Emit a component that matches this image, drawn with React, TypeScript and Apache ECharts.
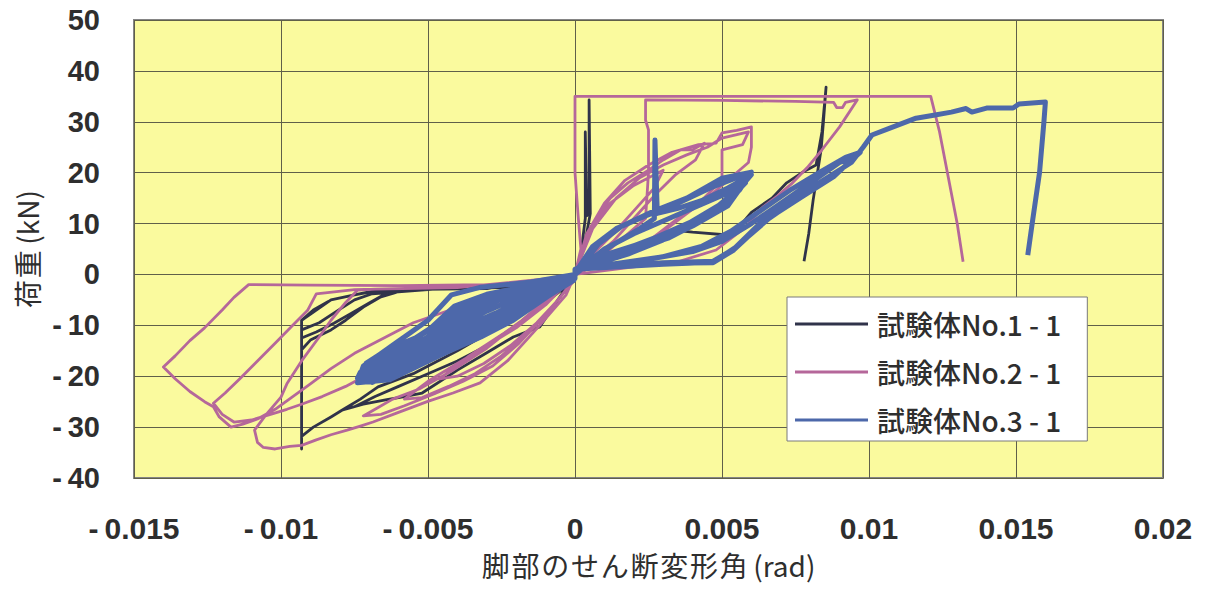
import React, { useEffect, useRef } from "react";
import * as echarts from "echarts";

// ---------- axis definitions ----------
const xTicks = { min: -0.015, max: 0.02, interval: 0.005 };
const yTicks = { min: -40, max: 50, interval: 10 };
const xTitle = "脚部のせん断変形角(rad)";
const yTitle = "荷重(kN)";
const seriesNames = ["試験体No.1-1", "試験体No.2-1", "試験体No.3-1"];
const seriesColors = ["#30334a", "#b5679a", "#4d68aa"];

// ---------- 試験体No.1-1 (navy) ----------
const no1Spike = [[0, 0], [0.0002, 4], [0.00035, 11], [0.00035, 28], [0.0004, 11.5], [0.00048, 12], [0.00048, 34.3], [0.00052, 12], [0.0003, 5], [0, 0.5]];
const no1NegSmall = [[0, 0], [-0.002, -2.5], [-0.004, -2.8], [-0.006, -3], [-0.0068, -3.3], [-0.0075, -4], [-0.0083, -5], [-0.0089, -7], [-0.0093, -9],
  [-0.0093, -14.8], [-0.009, -12.9], [-0.0083, -10.9], [-0.0078, -9], [-0.0072, -6.4], [-0.0066, -4.4], [-0.006, -3.4],
  [-0.0065, -4], [-0.007, -5.6], [-0.0076, -7.6], [-0.0082, -9.6], [-0.0088, -11.3], [-0.0093, -12.5],
  [-0.0093, -10.9], [-0.0087, -9.5], [-0.0081, -7.2], [-0.0075, -5], [-0.0069, -3.8], [-0.005, -3], [-0.002, -2], [0, 0]];
const no1NegMid = [[0, 0], [-0.0012, -5], [-0.0025, -10], [-0.004, -15], [-0.0055, -19.5], [-0.0067, -22.1], [-0.0073, -24.5], [-0.0079, -26.6],
  [-0.0075, -26], [-0.0068, -24], [-0.006, -22], [-0.005, -19.5], [-0.004, -17], [-0.003, -14], [-0.002, -10], [-0.001, -5.5], [0, -1]];
const no1NegBig = [[0, 0], [-0.0012, -10.3], [-0.0021, -12.3], [-0.003, -15.4], [-0.004, -18.8], [-0.0052, -23.3], [-0.0059, -24.1], [-0.0064, -24.6],
  [-0.0072, -25.5], [-0.0079, -26.6], [-0.0083, -28], [-0.0089, -30], [-0.0093, -31.8], [-0.0093, -34.3], [-0.0093, -9],
  [-0.0088, -7], [-0.0083, -5], [-0.0075, -4], [-0.0068, -3.2], [-0.006, -3], [-0.003, -2.8], [0, 0]];
const no1Pos = [[0, 0], [0.001, 3], [0.002, 5.5], [0.0035, 8.6], [0.004, 8.3], [0.0053, 7.7], [0.0056, 9.5], [0.006, 12.2], [0.0067, 15],
  [0.0072, 18], [0.0078, 20.3], [0.0082, 21.5], [0.0084, 28], [0.00854, 36.8], [0.00845, 30], [0.00837, 24.5], [0.0081, 14.6], [0.00795, 8], [0.00779, 2.6]];

// ---------- 試験体No.2-1 (pink) ----------
const no2PosSmall = [[0, 0], [0.0005, 9], [0.0012, 14], [0.002, 17.5], [0.003, 20.5], [0.0027, 17], [0.002, 12.5], [0.0013, 8], [0.0006, 4], [0, 0]];
const no2PosLoop1 = [[0, 0], [0.0003, 6], [0.0007, 11], [0.0012, 15], [0.0018, 18], [0.0025, 20.5], [0.003, 22.5], [0.0036, 24.5], [0.004, 24.5],
  [0.0044, 25.8], [0.0041, 22.5], [0.0034, 19.5], [0.0027, 15.5], [0.002, 11], [0.0013, 6.5], [0.0006, 3], [0, 0.5]];
const no2PosLoop2 = [[0, 0], [0.0004, 8], [0.001, 14], [0.0017, 18.5], [0.0025, 21.5], [0.0033, 24], [0.0042, 25.5], [0.0048, 25.8], [0.005, 27.8],
  [0.0055, 28.3], [0.006, 29], [0.006, 25], [0.0059, 22], [0.0052, 18.5], [0.0045, 15], [0.0037, 11.5], [0.0029, 8], [0.002, 5], [0.001, 2.5], [0, 0.5]];
const no2PosLoop3 = [[0, 0.3], [0.0006, 9], [0.0014, 15], [0.0022, 19], [0.003, 21.5], [0.0038, 23.5], [0.0045, 25], [0.005, 26.8], [0.0059, 28],
  [0.0057, 25.5], [0.005, 24.5], [0.005, 18.6], [0.0043, 14.5], [0.0035, 11], [0.0026, 7], [0.0016, 3.8], [0.0008, 2], [0, 0]];
const no2PosCap = [[0, 0], [0.0002, 5], [0.0001, 12], [0, 20], [0, 35], [0.003, 35], [0.006, 35], [0.009, 35], [0.0121, 35],
  [0.0124, 28], [0.0127, 19], [0.013, 10], [0.0132, 2.5]];
const no2PosCap2 = [[0, 0], [0.0012, 5], [0.0024, 11], [0.0025, 20], [0.0025, 28.4], [0.0024, 30.3], [0.0024, 34.3], [0.005, 34.2], [0.0075, 34],
  [0.0088, 33.8], [0.0089, 32.8], [0.0091, 32.8], [0.0092, 33.8], [0.0096, 34.3], [0.009, 29], [0.0084, 24.5], [0.0079, 21], [0.0074, 18],
  [0.0069, 15.5], [0.0064, 13.3], [0.0058, 9.3], [0.0048, 4.8], [0.0035, 2.5], [0.002, 1.5], [0, 0]];
const no2NegInner1 = [[0, 0], [-0.0012, -6.5], [-0.0024, -11.5], [-0.0036, -16], [-0.0046, -20.5], [-0.004, -20], [-0.0031, -17.5], [-0.0022, -14],
  [-0.0013, -9.5], [-0.0005, -4.5], [0, -0.5]];
const no2NegInner2 = [[0, 0], [-0.001, -6], [-0.002, -10.5], [-0.003, -14], [-0.004, -17.5], [-0.005, -21], [-0.0058, -24.5], [-0.0052, -24.2],
  [-0.0043, -22], [-0.0034, -19.5], [-0.0025, -16], [-0.0016, -11.5], [-0.0008, -6.5], [0, -1]];
const no2NegInner3 = [[0, 0], [-0.0008, -4], [-0.0018, -9], [-0.003, -14.5], [-0.0042, -19], [-0.0053, -22.5], [-0.0062, -24.5], [-0.0068, -26.5],
  [-0.0072, -27.8], [-0.0066, -27.5], [-0.0058, -25.8], [-0.0048, -23.5], [-0.0038, -21], [-0.0028, -18], [-0.0019, -13.5], [-0.001, -8], [-0.0003, -3], [0, 0]];
const no2NegLoopC = [[0, -0.3], [-0.004, -2.6], [-0.0068, -2.9], [-0.0074, -3.1], [-0.0078, -5.5], [-0.0083, -9], [-0.0087, -12.3], [-0.0093, -17],
  [-0.0098, -21.5], [-0.01, -24.1], [-0.0105, -27.5], [-0.0109, -30.6], [-0.0108, -33], [-0.0106, -34], [-0.0102, -34.3], [-0.0097, -33.8],
  [-0.0093, -33.6], [-0.0088, -32.5], [-0.0083, -31.5], [-0.00775, -30.6], [-0.0073, -29.8], [-0.00687, -29], [-0.00605, -27.2],
  [-0.00503, -25], [-0.00415, -23.3], [-0.00323, -21.3], [-0.0023, -17], [-0.0012, -10], [-0.0003, -4], [0, 0]];
const no2NegLoopB = [[0, -0.5], [-0.004, -2.5], [-0.0075, -3], [-0.0088, -3.8], [-0.0091, -7.1], [-0.0096, -10], [-0.0102, -13.5], [-0.0108, -17],
  [-0.0114, -20.5], [-0.0119, -23.3], [-0.0123, -25.3], [-0.012, -27.5], [-0.0116, -29], [-0.011, -28.6], [-0.0103, -27.4], [-0.0098, -26.5],
  [-0.0093, -25.5], [-0.0086, -24], [-0.0078, -22], [-0.007, -19.5], [-0.006, -16], [-0.005, -12.5], [-0.0035, -8], [-0.002, -4.5], [0, 0]];
const no2NegLoopA = [[0, -0.8], [-0.003, -2], [-0.006, -2.2], [-0.009, -2.1], [-0.0111, -2], [-0.0116, -4.5], [-0.012, -7], [-0.0126, -10.5],
  [-0.0131, -13], [-0.0136, -16], [-0.014, -18.2], [-0.0136, -20.5], [-0.0131, -23], [-0.0126, -25], [-0.0123, -26], [-0.0121, -28],
  [-0.0117, -30], [-0.0113, -29.4], [-0.0108, -28.4], [-0.0102, -26.5], [-0.0096, -24], [-0.009, -21.5], [-0.0083, -18.5],
  [-0.0075, -15.5], [-0.0065, -12.5], [-0.0055, -9.5], [-0.004, -6.5], [-0.0025, -4], [-0.001, -1.8], [0, 0]];

// ---------- 試験体No.3-1 (blue) ----------
const no3NegLoop1 = [[0, -1], [-0.00095, -4.4], [-0.0021, -9], [-0.0032, -12.3], [-0.0044, -15.4], [-0.0063, -20.7], [-0.0074, -21.3],
  [-0.0072, -18], [-0.0061, -13.5], [-0.005, -9], [-0.0042, -4], [-0.0032, -2.5], [-0.0015, -1.5], [0, 0]];
const no3NegLoop2 = [[0, -0.5], [-0.0011, -4.3], [-0.0023, -8.6], [-0.0034, -11.8], [-0.0046, -14.6], [-0.0061, -19], [-0.0073, -20.6],
  [-0.0071, -18.6], [-0.006, -14.6], [-0.0049, -10.5], [-0.0041, -6.2], [-0.003, -3.9], [-0.0014, -2], [0, 0]];
const no3NegLoop3 = [[0, -0.3], [-0.0012, -4], [-0.0025, -8.2], [-0.0036, -11.2], [-0.0047, -13.8], [-0.0059, -17.6], [-0.0072, -20],
  [-0.0069, -19], [-0.0058, -15.6], [-0.0048, -12], [-0.0038, -8.5], [-0.0027, -5.3], [-0.0013, -2.6], [0, 0]];
const no3NegLoop4 = [[0, -0.2], [-0.0013, -3.6], [-0.0027, -7.6], [-0.0038, -10.4], [-0.0049, -13.2], [-0.006, -16.6], [-0.0071, -19.5],
  [-0.0066, -17.6], [-0.0055, -14.4], [-0.0046, -11.2], [-0.0036, -7.8], [-0.0025, -4.8], [-0.0012, -2.2], [0, 0]];
const no3NegLoop5 = [[0, -0.6], [-0.001, -4.6], [-0.0022, -8.8], [-0.0033, -12], [-0.0045, -15], [-0.0062, -20], [-0.0073, -21],
  [-0.0072, -18.3], [-0.0063, -15.4], [-0.0052, -11.8], [-0.0043, -8], [-0.0034, -5], [-0.0022, -3], [0, 0]];
const no3NegLoop6 = [[0, -0.8], [-0.0009, -3.6], [-0.002, -7.6], [-0.003, -10.8], [-0.0042, -14], [-0.0055, -17.6], [-0.0068, -20.8],
  [-0.0074, -20.4], [-0.0073, -19.2], [-0.0066, -16.6], [-0.0056, -13.4], [-0.0047, -9.8], [-0.0039, -6.6], [-0.0029, -4.2], [-0.0016, -2.4], [0, -0.2]];
const no3NegLoop7 = [[0, -0.4], [-0.0014, -4.8], [-0.0026, -9.4], [-0.0037, -12.8], [-0.0048, -15.8], [-0.0058, -18.6], [-0.0069, -21.2],
  [-0.0071, -17.4], [-0.0064, -14.8], [-0.0054, -12.4], [-0.0045, -9.4], [-0.0035, -6.4], [-0.0024, -3.6], [-0.0011, -1.6], [0, 0]];
const no3NegLoop8 = [[0, -0.7], [-0.001, -4], [-0.0022, -8.2], [-0.0034, -11.5], [-0.0046, -14.4], [-0.006, -18.4], [-0.0072, -20.9],
  [-0.007, -18.9], [-0.0061, -15.9], [-0.0051, -12.6], [-0.0042, -9.2], [-0.0032, -6], [-0.0019, -3.4], [0, -0.4]];
const no3NegLoop9 = [[0, -0.2], [-0.0015, -4.2], [-0.0028, -8.4], [-0.004, -11.6], [-0.0052, -14.6], [-0.0063, -17.6], [-0.0072, -19.6],
  [-0.0068, -18.2], [-0.0059, -16.2], [-0.005, -13.4], [-0.004, -10.2], [-0.003, -7.2], [-0.0018, -4.2], [-0.0008, -2], [0, 0]];
const no3PosLoop1 = [[0, 0], [0.0008, 6], [0.0016, 9.5], [0.0027, 12.5], [0.0038, 15], [0.005, 18.9], [0.006, 20.1], [0.0056, 16.6],
  [0.0046, 12], [0.0035, 8.7], [0.0023, 6.2], [0.0012, 4.2], [0, 1]];
const no3PosLoop2 = [[0, 0.5], [0.001, 5], [0.002, 8], [0.003, 10.5], [0.004, 13], [0.005, 15.5], [0.0058, 18], [0.0053, 15], [0.0043, 10.5],
  [0.0032, 7.2], [0.002, 5], [0.001, 3], [0, 0.5]];
const no3PosLoop5 = [[0, 0.3], [0.0006, 5.5], [0.0014, 9], [0.0024, 11.5], [0.0035, 14], [0.0046, 17], [0.0055, 19], [0.006, 19.6],
  [0.0057, 17.6], [0.0049, 13.6], [0.0039, 10.2], [0.0028, 7.4], [0.0017, 5], [0.0008, 3.2], [0, 0.8]];
const no3PosSpike = [[0, 0], [0.0012, 5.5], [0.0022, 9], [0.0027, 11], [0.00272, 26.4], [0.0028, 12], [0.0035, 13], [0.0043, 14.5],
  [0.0052, 17], [0.0059, 19.2], [0.0052, 13.5], [0.004, 9.5], [0.003, 6.8], [0.0018, 4], [0, 0.8]];
const no3PosLoop3 = [[0, 1], [0.0015, 1.8], [0.003, 2.2], [0.0047, 2.3], [0.0054, 4.8], [0.0065, 10.7], [0.0077, 15.2], [0.0088, 19.2],
  [0.0095, 23], [0.009, 22], [0.008, 18], [0.007, 14], [0.006, 10], [0.005, 6.5], [0.004, 4.5], [0.0025, 3], [0, 1]];
const no3PosLoop4 = [[0, 1], [0.003, 2], [0.0047, 2.4], [0.0055, 5.5], [0.0066, 11], [0.0078, 15.8], [0.0089, 19.8], [0.0097, 24],
  [0.0092, 23], [0.0083, 20], [0.0073, 16.5], [0.0063, 12.5], [0.0053, 8.5], [0.0043, 5.5], [0.003, 3.5], [0, 1]];
const no3PosFinal = [[0, 1], [0.003, 2.3], [0.0047, 2.6], [0.0054, 5], [0.0065, 11.2], [0.0077, 15.8], [0.0088, 19.8], [0.0094, 22],
  [0.0098, 25], [0.0101, 27.4], [0.0106, 28.5], [0.011, 29.4], [0.0116, 30.7], [0.0122, 31.3], [0.0128, 31.9], [0.0133, 32.6],
  [0.0135, 31.9], [0.014, 32.7], [0.0149, 32.7], [0.0151, 33.5], [0.016, 33.9], [0.01595, 30], [0.0158, 20], [0.01555, 10], [0.0154, 3.8]];

const no1Data = [...no1Spike, ...no1NegSmall, ...no1NegMid, ...no1NegBig, ...no1Pos];
const no2Data = [...no2PosSmall, ...no2PosLoop1, ...no2PosLoop2, ...no2PosLoop3, ...no2NegInner1, ...no2NegInner2, ...no2NegInner3,
  ...no2NegLoopC, ...no2NegLoopB, ...no2NegLoopA, ...no2PosCap2, ...no2PosCap];
const no3Data = [...no3NegLoop1, ...no3NegLoop2, ...no3NegLoop3, ...no3NegLoop4, ...no3NegLoop5, ...no3NegLoop6, ...no3NegLoop7,
  ...no3NegLoop8, ...no3NegLoop9, ...no3PosLoop1, ...no3PosLoop2, ...no3PosLoop5, ...no3PosSpike, ...no3PosLoop3, ...no3PosLoop4, ...no3PosFinal];

const fmt = (v: number) => {
  const r = Math.round(v * 100000) / 100000;
  if (r === 0) return "0";
  const s = String(Math.abs(r));
  return r < 0 ? "-\u2009" + s : s;
};
const spaced = (t: string) => {
  const i = t.indexOf("(");
  return t.slice(0, i).split("").join("\u200A") + "\u2009" + t.slice(i);
};

export default function App() {
  const ref = useRef<HTMLDivElement>(null);
  useEffect(() => {
    if (!ref.current) return;
    const chart = echarts.init(ref.current, null, { renderer: "svg" });
    const labelStyle = { fontWeight: "bold", color: "#2e2e2e", fontFamily: "Liberation Sans" };
    const mk = (i: number, data: number[][], w: number) => ({
      name: seriesNames[i],
      type: "line",
      data,
      symbol: "none",
      showSymbol: false,
      clip: true,
      color: seriesColors[i],
      lineStyle: { color: seriesColors[i], width: w, join: "round" },
    });
    chart.setOption({
      animation: false,
      backgroundColor: "#ffffff",
      grid: { left: 134, top: 20, right: 42, bottom: 112, show: true, backgroundColor: "#fafa9e", borderColor: "#858585", borderWidth: 2 },
      xAxis: {
        type: "value", min: xTicks.min, max: xTicks.max, interval: xTicks.interval,
        axisLine: { show: false }, axisTick: { show: false },
        splitLine: { show: true, lineStyle: { color: "#5f5f4a", width: 1 } },
        axisLabel: { ...labelStyle, fontSize: 30, margin: 35, formatter: fmt },
        name: spaced(xTitle), nameLocation: "middle", nameGap: 73,
        nameTextStyle: { fontSize: 28, color: "#2e2e2e", fontFamily: "Noto Sans CJK JP" },
      },
      yAxis: {
        type: "value", min: yTicks.min, max: yTicks.max, interval: yTicks.interval,
        axisLine: { show: false }, axisTick: { show: false },
        splitLine: { show: true, lineStyle: { color: "#5f5f4a", width: 1 } },
        axisLabel: { ...labelStyle, fontSize: 29, margin: 34, formatter: fmt },
        name: spaced(yTitle), nameLocation: "middle", nameRotate: 90, nameGap: 93,
        nameTextStyle: { fontSize: 28, color: "#2e2e2e", fontFamily: "Noto Sans CJK JP" },
      },
      legend: {
        orient: "vertical", left: 787, top: 297, padding: [13, 26, 7, 8], itemGap: 20,
        icon: "rect", itemWidth: 73, itemHeight: 3, backgroundColor: "#ffffff", borderColor: "#7a7a7a", borderWidth: 1,
        data: seriesNames,
        formatter: (n: string) => n.replace("-", " - "),
        textStyle: { fontSize: 28, fontWeight: 500, color: "#2e2e2e", fontFamily: "Noto Sans CJK JP", padding: [0, 0, 0, 4] },
      },
      series: [mk(0, no1Data, 2.8), mk(1, no2Data, 2.8), mk(2, no3Data, 5)],
    });
    return () => chart.dispose();
  }, []);
  return <div ref={ref} style={{ position: "absolute", left: 0, top: 0, width: 1205, height: 590 }} />;
}
